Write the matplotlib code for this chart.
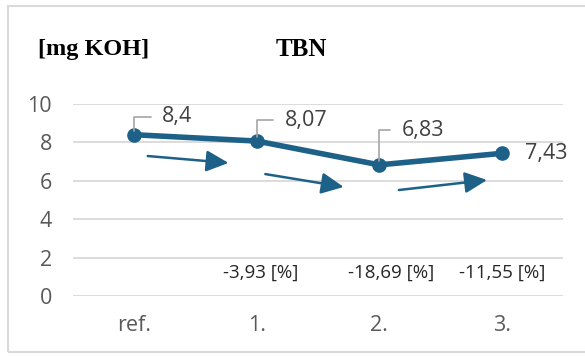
import matplotlib
matplotlib.use('Agg')
import matplotlib.pyplot as plt
from matplotlib.patches import Rectangle

# Dữ liệu
categories = ['ref.', '1.', '2.', '3.']
tbn = [8.4, 8.07, 6.83, 7.43]
value_labels = ['8,4', '8,07', '6,83', '7,43']
change_labels = ['-3,93 [%]', '-18,69 [%]', '-11,55 [%]']

line_color = '#1d6188'
text_color = '#404040'

fig = plt.figure(figsize=(5.85, 3.56), dpi=100)
ax = fig.add_axes([73/585, 60/356, 490/585, 192/356])

x = list(range(len(categories)))
ax.plot(x, tbn, color=line_color, lw=4.0, marker='o', markersize=9.5, zorder=3,
        solid_capstyle='round')

ax.set_xlim(-0.5, len(categories) - 0.5)
ax.set_ylim(0, 10)
ax.set_yticks([0, 2, 4, 6, 8, 10])
ax.set_xticks(x)
ax.set_xticklabels(categories)
for s in ax.spines.values():
    s.set_visible(False)
ax.grid(axis='y', color='#d9d9d9', lw=1.3)
ax.set_axisbelow(True)
ax.tick_params(length=0, labelsize=15.5, labelcolor='#595959')
ax.tick_params(axis='x', pad=14)
ax.tick_params(axis='y', pad=15)
for t in ax.get_xticklabels() + ax.get_yticklabels():
    t.set_fontfamily('Open Sans')

# Nhãn giá trị với đường dẫn
offsets = [(20, 13), (20, 15), (16, 25), (17, 0)]
for i, (v, lab, off) in enumerate(zip(tbn, value_labels, offsets)):
    if i == len(tbn) - 1:
        ax.annotate(lab, xy=(i, v), xytext=off, textcoords='offset points',
                    va='center', ha='left', fontsize=15.5, color=text_color,
                    fontfamily='Open Sans')
    else:
        ax.annotate(lab, xy=(i, v), xytext=off, textcoords='offset points',
                    va='center', ha='left', fontsize=15.5, color=text_color,
                    fontfamily='Open Sans',
                    arrowprops=dict(arrowstyle='-', color='#a6a6a6', lw=1.2,
                                    connectionstyle='angle,angleA=0,angleB=90,rad=0',
                                    shrinkA=6, shrinkB=3))

# Phần trăm thay đổi
change_x = [1.03, 2.1, 3.0]
for cx, lab in zip(change_x, change_labels):
    ax.text(cx, 1.2, lab, ha='center', va='center', fontsize=13.5,
            color='#262626', fontfamily='Open Sans')

# Mũi tên xu hướng
arrows = [((0.11, 7.29), (0.77, 6.93)),
          ((1.07, 6.35), (1.71, 5.68)),
          ((2.16, 5.52), (2.88, 6.04))]
for start, end in arrows:
    ax.annotate('', xy=end, xytext=start,
                arrowprops=dict(arrowstyle='-|>,head_length=0.8,head_width=0.38',
                                color=line_color, lw=1.8, mutation_scale=17,
                                shrinkA=0, shrinkB=0))

# Tiêu đề
fig.text(38/585, 1 - 50/356, '[mg KOH]', fontsize=17.5, fontweight='bold',
         fontfamily='Liberation Serif', va='center', ha='left')
fig.text(301/585, 1 - 50/356, 'TBN', fontsize=18, fontweight='bold',
         fontfamily='Liberation Serif', va='center', ha='center')

# Khung viền
fig.add_artist(Rectangle((8/585, 4/356), 590/585, 346/356, transform=fig.transFigure,
                         fill=False, edgecolor='#d9d9d9', lw=1.5))

plt.savefig('out.png', dpi=100)
